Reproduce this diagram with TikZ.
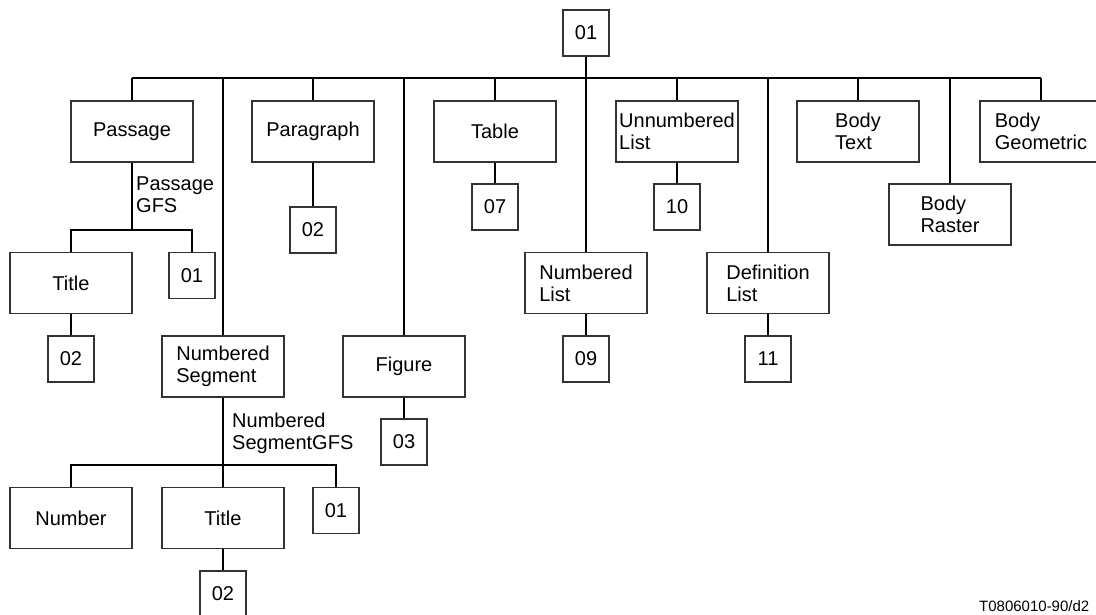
\documentclass[tikz,border=0pt]{standalone}
\usepackage{fontspec}
\setmainfont{Liberation Sans}
\begin{document}
\begin{tikzpicture}[x=1pt,y=-1pt,
  box/.style={draw=black!80, line width=1.2pt, minimum width=122pt, minimum height=61pt,
    inner sep=0pt, align=left, font=\fontsize{20}{22}\selectfont},
  numbox/.style={box, minimum width=46pt, minimum height=46pt},
  wire/.style={line width=2pt, black},
  lbl/.style={inner sep=0pt, anchor=north west, align=left, font=\fontsize{20}{22}\selectfont}]
\useasboundingbox (0,0) rectangle (1096,615);

% root and first level
\node[numbox] (root) at (586,33) {01};
\node[box] (passage)    at (132,131.5) {Passage};
\node[box] (numseg)     at (223,366.5) {Numbered\\Segment};
\node[box] (paragraph)  at (313,131.5) {Paragraph};
\node[box] (figure)     at (404,366.5) {Figure};
\node[box] (table)      at (495,131.5) {Table};
\node[box] (numlist)    at (586,283)   {Numbered\\List};
\node[box] (unnum)      at (677,131.5) {Unnumbered\\List};
\node[box] (deflist)    at (768,283)   {Definition\\List};
\node[box] (bodytext)   at (858,131.5) {Body\\Text};
\node[box] (bodyraster) at (950,214.5) {Body\\Raster};
\node[box] (bodygeo)    at (1041,131.5) {Body\\Geometric};

% passage subtree
\node[box]    (ptitle) at (71,283)    {Title};
\node[numbox] (p01)    at (192,275.5) {01};
\node[numbox] (pt02)   at (71,359)    {02};

% leaf references
\node[numbox] (para02)  at (313,230) {02};
\node[numbox] (table07) at (495,207) {07};
\node[numbox] (fig03)   at (404,442) {03};
\node[numbox] (nl09)    at (586,359) {09};
\node[numbox] (un10)    at (677,207) {10};
\node[numbox] (dl11)    at (768,359) {11};

% numbered segment subtree
\node[box]    (number) at (71,518)    {Number};
\node[box]    (stitle) at (223,518)   {Title};
\node[numbox] (s01)    at (336,510.5) {01};
\node[numbox] (st02)   at (223,594)   {02};

% labels
\node[lbl] (pgfs) at (136,177) {Passage\\GFS};
\node[lbl] (sgfs) at (232,413) {Numbered\\SegmentGFS};
\node[inner sep=0pt, anchor=base west, font=\fontsize{15}{17}\selectfont] (code) at (979,611) {T0806010-90/d2};

% main bus
\coordinate (bus) at (0,78);
\draw[wire] (passage.north |- bus) -- (bodygeo.north |- bus);
\foreach \n in {passage,numseg,paragraph,figure,table,unnum,deflist,bodytext,bodyraster,bodygeo}
  \draw[wire] (\n.north) -- (\n.north |- bus);
\draw[wire] (root.south) -- (numlist.north);

% passage bus
\coordinate (pbus) at (0,230);
\draw[wire] (passage.south) -- (passage.south |- pbus);
\draw[wire] (ptitle.north) -- (ptitle.north |- pbus) -- (p01.north |- pbus) -- (p01.north);
\draw[wire] (ptitle.south) -- (pt02.north);

% single children
\draw[wire] (paragraph.south) -- (para02.north);
\draw[wire] (table.south) -- (table07.north);
\draw[wire] (figure.south) -- (fig03.north);
\draw[wire] (numlist.south) -- (nl09.north);
\draw[wire] (unnum.south) -- (un10.north);
\draw[wire] (deflist.south) -- (dl11.north);

% numbered segment bus
\coordinate (sbus) at (0,465);
\draw[wire] (numseg.south) -- (stitle.north);
\draw[wire] (number.north) -- (number.north |- sbus) -- (s01.north |- sbus) -- (s01.north);
\draw[wire] (stitle.south) -- (st02.north);
\end{tikzpicture}
\end{document}
